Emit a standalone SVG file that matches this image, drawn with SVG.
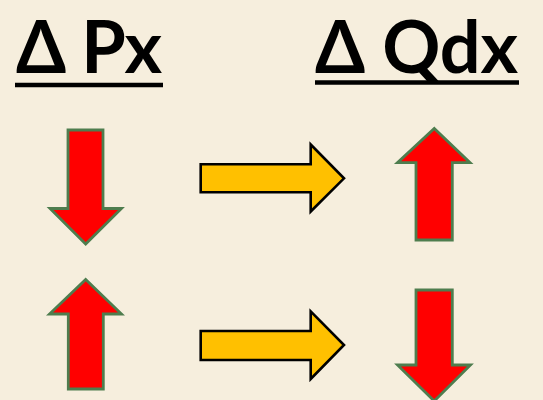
<svg xmlns="http://www.w3.org/2000/svg" width="543" height="400" viewBox="0 0 543 400">
<style>
.bg{fill:#F6EEDD}
.title{font-family:Lato,"Open Sans","Liberation Sans",sans-serif;font-weight:700;font-size:72px;fill:#000}
.ul{stroke:#000;stroke-width:4.7}
.red{fill:#FF0000;stroke:#4E7D4E;stroke-width:2.8;stroke-linejoin:miter}
.yel{fill:#FFC000;stroke:#000;stroke-width:2.6;stroke-linejoin:miter}
</style>
<rect class="bg" x="0" y="0" width="543" height="400"/>
<g id="title-px">
<text class="title" x="16" y="72.5" textLength="146">Δ Px</text>
<line class="ul" x1="15" y1="85" x2="163" y2="85"/>
</g>
<g id="title-qdx">
<text class="title" x="315" y="72.5" textLength="203">Δ Qdx</text>
<line class="ul" x1="315" y1="82.5" x2="519" y2="82.5"/>
</g>
<g id="px-down">
<polygon class="red" points="68,130 103,130 103,208.5 121.5,208.5 85.7,244 50,208.5 68,208.5"/>
</g>
<g id="px-up">
<polygon class="red" points="85.7,279.5 121.5,314 103.3,314 103.3,389 68.3,389 68.3,314 49.5,314"/>
</g>
<g id="qdx-up">
<polygon class="red" points="434.3,128.5 470,162.7 452.3,162.7 452.3,240 416,240 416,162.7 397.5,162.7"/>
</g>
<g id="qdx-down">
<polygon class="red" points="416,290 452.3,290 452.3,365 470.5,365 434.2,401 397.5,365 416,365"/>
</g>
<g id="connectors">
<polygon class="yel" points="200.7,164.3 310.7,164.3 310.7,144.5 344,178.3 310.7,211.5 310.7,192.3 200.7,192.3"/>
<polygon class="yel" points="200.7,331 310.7,331 310.7,311.3 344,345 310.7,379 310.7,360 200.7,360"/>
</g>
</svg>
